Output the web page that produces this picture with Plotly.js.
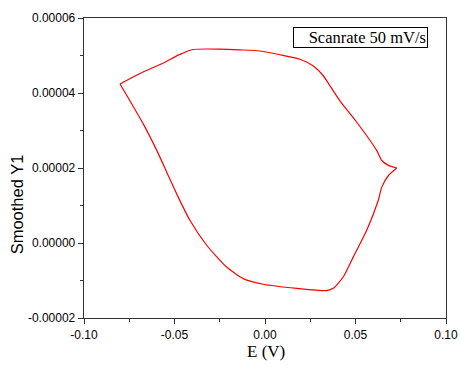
<!DOCTYPE html>
<html>
<head>
<meta charset="utf-8">
<script src="https://cdn.plot.ly/plotly-3.0.1.min.js"></script>
<style>html,body{margin:0;padding:0;background:#fff;}#chart{width:460px;height:371px;}</style>
</head>
<body>
<div id="chart"></div>
<script>
// CV loop: upper (anodic) branch from left vertex to right vertex
const upperE = [-0.0801, -0.0691, -0.0562, -0.0470, -0.0396, -0.0249, -0.0138, -0.0028, 0.0083, 0.0193, 0.0267, 0.0322, 0.0359, 0.0414, 0.0507, 0.0617, 0.0645, 0.0682, 0.0728];
const upperY1 = [4.24e-5, 4.52e-5, 4.80e-5, 5.03e-5, 5.16e-5, 5.17e-5, 5.15e-5, 5.12e-5, 5.02e-5, 4.90e-5, 4.72e-5, 4.46e-5, 4.19e-5, 3.79e-5, 3.22e-5, 2.47e-5, 2.20e-5, 2.07e-5, 2.00e-5];
// lower (cathodic) branch from right vertex back to left vertex
const lowerE = [0.0728, 0.0682, 0.0645, 0.0626, 0.0562, 0.0488, 0.0433, 0.0377, 0.0341, 0.0175, -0.0009, -0.0120, -0.0212, -0.0322, -0.0414, -0.0488, -0.0543, -0.0598, -0.0672, -0.0801];
const lowerY1 = [2.00e-5, 1.80e-5, 1.49e-5, 1.14e-5, 0.34e-5, -0.37e-5, -0.90e-5, -1.21e-5, -1.27e-5, -1.21e-5, -1.10e-5, -0.95e-5, -0.64e-5, -0.06e-5, 0.60e-5, 1.31e-5, 1.89e-5, 2.47e-5, 3.17e-5, 4.24e-5];
const xTickVals = [-0.10, -0.05, 0.00, 0.05, 0.10];
const xTickText = ["-0.10", "-0.05", "0.00", "0.05", "0.10"];
const yTickVals = [-0.00002, 0, 0.00002, 0.00004, 0.00006];
const yTickText = ["-0.00002", "0.00000", "0.00002", "0.00004", "0.00006"];
const labelText = "Scanrate 50 mV/s";
const yTitleText = "Smoothed Y1";
const xTitleText = "E (V)";

const axisCommon = {
  showline: true, linecolor: '#333', linewidth: 1.3, mirror: true,
  ticks: 'outside', ticklen: 5, tickwidth: 1, tickcolor: '#333',
  showgrid: false, zeroline: false,
  tickfont: {family: 'Liberation Sans, Arial, sans-serif', size: 12, color: '#000'}
};

const lineStyle = {color: '#ff0000', width: 1.2, shape: 'spline', smoothing: 0.6};
const data = [
  {x: upperE, y: upperY1, type: 'scatter', mode: 'lines', line: lineStyle, showlegend: false, hoverinfo: 'none'},
  {x: lowerE, y: lowerY1, type: 'scatter', mode: 'lines', line: lineStyle, showlegend: false, hoverinfo: 'none'}
];

const layout = {
  width: 460, height: 371,
  margin: {l: 84, r: 14, t: 18, b: 53},
  paper_bgcolor: '#fff', plot_bgcolor: '#fff',
  xaxis: Object.assign({}, axisCommon, {
    range: [-0.10, 0.10], tickmode: 'array', tickvals: xTickVals, ticktext: xTickText,
    minor: {ticks: 'outside', ticklen: 3, tickwidth: 1, tickcolor: '#333', dtick: 0.025, tick0: -0.1}
  }),
  yaxis: Object.assign({}, axisCommon, {
    range: [-0.00002, 0.00006], tickmode: 'array', tickvals: yTickVals, ticktext: yTickText,
    minor: {ticks: 'outside', ticklen: 3, tickwidth: 1, tickcolor: '#333', dtick: 0.00001, tick0: -0.00002}
  }),
  annotations: [
    {
      text: labelText, xref: 'paper', yref: 'paper', x: 0.951, y: 0.97,
      xanchor: 'right', yanchor: 'top', showarrow: false,
      width: 131, height: 17, align: 'right',
      font: {family: 'Liberation Serif, Times New Roman, serif', size: 16.5, color: '#000'},
      bordercolor: '#000', borderwidth: 1, borderpad: 1, bgcolor: '#fff'
    },
    {
      text: yTitleText, xref: 'paper', yref: 'paper', x: -0.185, y: 0.379,
      xanchor: 'center', yanchor: 'middle', textangle: -90, showarrow: false,
      font: {family: 'Liberation Sans, Arial, sans-serif', size: 16.5, color: '#000'}
    },
    {
      text: xTitleText, xref: 'paper', yref: 'paper', x: 0.502, y: -0.113,
      xanchor: 'center', yanchor: 'middle', showarrow: false,
      font: {family: 'Liberation Serif, Times New Roman, serif', size: 17, color: '#000'}
    }
  ]
};

Plotly.newPlot('chart', data, layout, {staticPlot: true, displayModeBar: false});
</script>
</body>
</html>
